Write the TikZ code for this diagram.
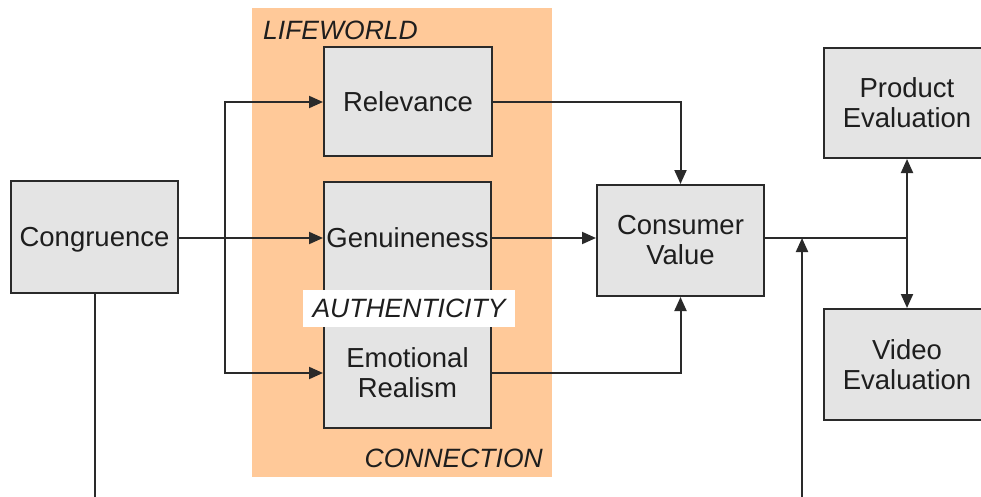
\documentclass[tikz,border=0pt]{standalone}
\usepackage{fontspec}
\setmainfont{Liberation Sans}
\usetikzlibrary{arrows.meta}
\definecolor{peach}{HTML}{FFC999}
\definecolor{boxfill}{HTML}{E4E4E4}
\definecolor{ink}{HTML}{1E1E1E}
\definecolor{wire}{HTML}{2A2A2A}
\tikzset{
  block/.style={draw=wire, line width=2pt, fill=boxfill, text=ink,
    minimum width=167pt, align=center, inner sep=0pt,
    font=\fontsize{27.5}{30}\selectfont},
  tag/.style={text=ink, inner sep=0pt, font=\fontsize{26.5}{30}\selectfont\itshape},
  wireline/.style={draw=wire, line width=2pt},
  arr/.style={wireline, -{Triangle[length=14pt,width=12pt]}},
}
\begin{document}
\begin{tikzpicture}[x=1pt,y=-1pt]
\useasboundingbox (0,0) rectangle (981,497);

% shaded lifeworld / connection panel
\fill[peach] (252,8) rectangle (552,477);
\node[tag, anchor=west] (lifeworld) at (263,30) {LIFEWORLD};
\node[tag, anchor=east] (connection) at (543,458) {CONNECTION};

% blocks
\node[block, minimum height=112pt, text depth=0pt] (cong) at (94.5,237) {Congruence};
\node[block, minimum height=109pt, minimum width=168pt] (rel) at (408,102) {Relevance};
\node[block, minimum height=112pt] (gen) at (407.5,238) {Genuineness};
\node[block, minimum height=110pt] (er) at (407.5,373) {Emotional\\Realism};
\node[block, minimum height=111pt] (cv) at (680.5,240.5) {Consumer\\Value};
\node[block, minimum height=110pt] (pe) at (907,103) {Product\\Evaluation};
\node[block, minimum height=111pt] (ve) at (907,364.5) {Video\\Evaluation};

% authenticity caption across the two lower blocks
\node[fill=white, minimum width=212pt, minimum height=37pt, inner sep=0pt,
      text=ink, font=\fontsize{26.5}{30}\selectfont\itshape] (auth) at (409,308.5) {AUTHENTICITY};

% junction points and loose ends
\coordinate (split) at (225,238);
\coordinate (hub) at (907,238);
\coordinate (congend) at (94.5,500);
\coordinate (modin) at (802,500);
\coordinate (modtip) at (802,238);

% connectors
\draw[arr] (cong.east |- split) -- (gen.west);
\draw[arr] (split) |- (rel.west);
\draw[arr] (split) |- (er.west);
\draw[arr] (rel.east) -| (cv.north);
\draw[arr] (gen.east) -- (gen.east -| cv.west);
\draw[arr] (er.east) -| (cv.south);
\draw[wireline] (cv.east |- hub) -- (hub);
\draw[arr] (hub) -- (pe.south);
\draw[arr] (hub) -- (ve.north);
\draw[arr] (modin) -- (modtip);
\draw[wireline] (cong.south) -- (congend);
\end{tikzpicture}
\end{document}
